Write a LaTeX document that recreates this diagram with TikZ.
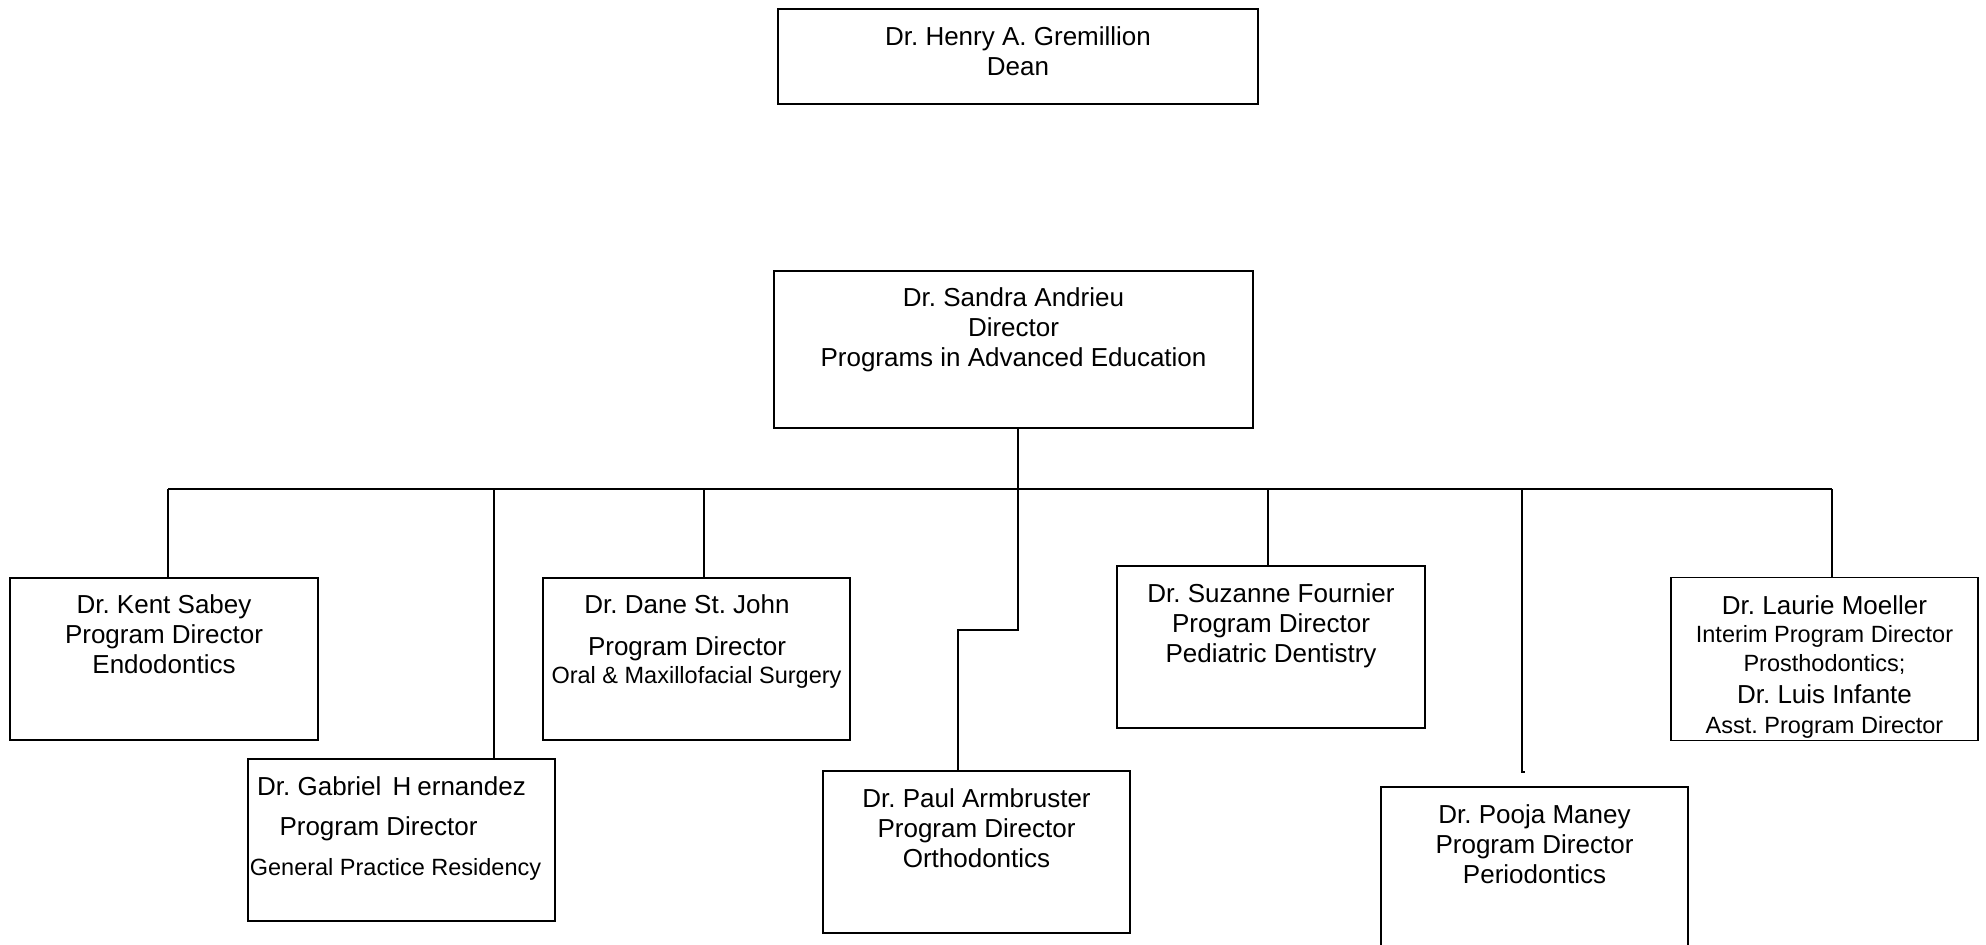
\documentclass[tikz,border=0pt]{standalone}
\usepackage{fontspec}
\setmainfont{Liberation Sans}
\frenchspacing
\newcommand\lgf{\fontsize{13pt}{15pt}\selectfont}
\newcommand\smf{\fontsize{11.75pt}{15pt}\selectfont}
\newcommand\orgnode[7]{\node[orgbox] (#1) at (#2,#3) {\begin{minipage}[c][#5][t]{#4}\parindent=0pt\lineskiplimit=-30pt\lgf\frenchspacing\centering\rule{0pt}{#6}#7\end{minipage}};}
\begin{document}
\begin{tikzpicture}[x=0.5pt,y=-0.5pt,
  orgbox/.style={draw, line width=0.8pt, inner sep=0pt, outer sep=0pt},
  link/.style={line width=0.8pt}]
\fill[white] (0,0) rectangle (1986,944);
\useasboundingbox (0,0) rectangle (1986,944);

\orgnode{dean}{1018}{56.5}{240pt}{47.5pt}{18pt}{Dr. Henry A. Gremillion\\Dean}
\orgnode{dir}{1013.5}{349.5}{239.5pt}{78.5pt}{17.5pt}{Dr. Sandra Andrieu\\Director\\Programs in Advanced Education}
\orgnode{kent}{164}{659}{154pt}{81pt}{17.5pt}{Dr. Kent Sabey\\Program Director\\Endodontics}
\orgnode{gab}{401.5}{840}{153.5pt}{81pt}{18pt}{\hspace*{-10pt}Dr. Gabriel\hspace{2pt} H\kern3pt ernandez\\[5pt]\hspace*{-23pt}Program Director\\[5pt]\hspace*{-6pt}{\smf General Practice Residency}}
\orgnode{dane}{696.5}{659}{153.5pt}{81pt}{17.5pt}{\hspace*{-9.5pt}Dr. Dane St. John\\[6pt]\hspace*{-9.5pt}Program Director\\[-1pt]{\smf Oral \& Maxillofacial Surgery}}
\orgnode{paul}{976.5}{852}{153.5pt}{81pt}{18pt}{Dr. Paul Armbruster\\Program Director\\Orthodontics}
\orgnode{suz}{1271}{647}{154pt}{81pt}{18pt}{Dr. Suzanne Fournier\\Program Director\\Pediatric Dentistry}
\orgnode{pooja}{1534.5}{868}{153.5pt}{81pt}{18pt}{Dr. Pooja Maney\\Program Director\\Periodontics}
\orgnode{laurie}{1824.5}{659}{153.5pt}{81.5pt}{18.5pt}{Dr. Laurie Moeller\\[-0.9pt]{\smf Interim Program Director}\\[-0.4pt]{\smf Prosthodontics;}\\[0.6pt]Dr. Luis Infante\\{\smf Asst. Program Director}}

\coordinate (hub) at (1018,489);
\coordinate (kt) at (168,489);
\coordinate (gt) at (494,489);
\coordinate (dt) at (704,489);
\coordinate (pbend) at (958,630);
\coordinate (stt) at (1268,489);
\coordinate (pmt) at (1522,489);
\coordinate (pend) at (1522,772);
\coordinate (lt) at (1832,489);

\draw[link] (dir.south -| hub) -- (hub);
\draw[link] (kt) -- (lt);
\draw[link] (kt) -- (kt |- kent.north);
\draw[link] (gt) -- (gt |- gab.north);
\draw[link] (dt) -- (dt |- dane.north);
\draw[link] (hub) |- (pbend) -- (pbend |- paul.north);
\draw[link] (stt) -- (stt |- suz.north);
\draw[link] (pmt) -- (pend) -- ++(3,0);
\draw[link] (lt) -- (lt |- laurie.north);
\end{tikzpicture}
\end{document}
